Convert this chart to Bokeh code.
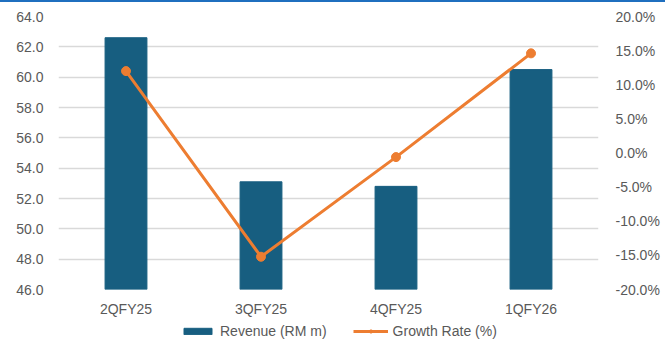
from bokeh.plotting import figure
from bokeh.models import (ColumnDataSource, Range1d, LinearAxis, FixedTicker,
                          NumeralTickFormatter, Legend, LegendItem, Div, FactorRange)
from bokeh.layouts import column
from bokeh.embed import file_html
from bokeh.resources import INLINE

# Quarterly revenue and quarter-on-quarter growth
quarters = ["2QFY25", "3QFY25", "4QFY25", "1QFY26"]
revenue = [62.6, 53.1, 52.8, 60.5]          # RM m
growth_pct = [12.0, -15.2, -0.6, 14.6]      # %
rev_ticks = [46, 48, 50, 52, 54, 56, 58, 60, 62, 64]
growth_ticks = [-0.20, -0.15, -0.10, -0.05, 0.0, 0.05, 0.10, 0.15, 0.20]

BAR = "#175e80"
LINE = "#ed7d31"
TEXT = "#595959"
GRID = "#d9d9d9"
FONT = "Liberation Sans"

src = ColumnDataSource(dict(q=quarters, rev=revenue,
                            g=[v / 100.0 for v in growth_pct]))

p = figure(width=665, height=317, x_range=FactorRange(*quarters),
           y_range=Range1d(46, 64), output_backend="svg", toolbar_location=None,
           min_border_left=58, min_border_right=67, min_border_top=14,
           min_border_bottom=28)
p.outline_line_color = None
p.background_fill_color = "white"
p.border_fill_color = "white"
p.x_range.range_padding = 0

p.extra_y_ranges = {"growth": Range1d(-0.20, 0.20)}


def style_axis(ax, standoff):
    ax.axis_line_color = None
    ax.major_tick_line_color = None
    ax.minor_tick_line_color = None
    ax.major_tick_out = 0
    ax.minor_tick_out = 0
    ax.major_label_text_color = TEXT
    ax.major_label_text_font = FONT
    ax.major_label_text_font_size = "14px"
    ax.major_label_standoff = standoff


# revenue axis (left)
ya = p.yaxis[0]
ya.ticker = FixedTicker(ticks=rev_ticks)
ya.formatter = NumeralTickFormatter(format="0.0")
style_axis(ya, 15)

# growth axis (right)
ra = LinearAxis(y_range_name="growth", ticker=FixedTicker(ticks=growth_ticks),
                formatter=NumeralTickFormatter(format="0.0%"))
style_axis(ra, 17)
p.add_layout(ra, "right")

style_axis(p.xaxis[0], 11)

p.xgrid.grid_line_color = None
p.ygrid.ticker = FixedTicker(ticks=rev_ticks)
p.ygrid.grid_line_color = GRID
p.ygrid.grid_line_width = 1.5

p.vbar(x="q", top="rev", bottom=46, width=0.31, source=src,
       fill_color=BAR, line_color=BAR)
p.line(x="q", y="g", source=src, y_range_name="growth",
       line_color=LINE, line_width=3)
p.scatter(x="q", y="g", source=src, y_range_name="growth",
          size=9, fill_color=LINE, line_color=LINE)

# legend strip under the chart; its key renderers hold a single blank (NaN) row
nan = float("nan")
lg = figure(width=665, height=38, x_range=Range1d(0, 1), y_range=Range1d(0, 1),
            x_axis_type=None, y_axis_type=None, output_backend="svg",
            toolbar_location=None, min_border=0)
lg.outline_line_color = None
lg.grid.visible = False
blank = ColumnDataSource(dict(x=[nan], y=[nan], top=[nan]))
k_bar = lg.vbar(x="x", top="top", width=0.1, source=blank,
                fill_color=BAR, line_color=BAR)
k_line = lg.line(x="x", y="y", source=blank, line_color=LINE, line_width=3)
k_pts = lg.scatter(x="x", y="y", source=blank, size=9,
                   fill_color=LINE, line_color=LINE)

legend = Legend(items=[LegendItem(label="Revenue (RM m)", renderers=[k_bar]),
                       LegendItem(label="Growth Rate (%)", renderers=[k_line, k_pts])],
                orientation="horizontal", location=(122, 18),
                padding=0, margin=0, spacing=26, label_standoff=5,
                glyph_width=35, glyph_height=8,
                label_text_font=FONT, label_text_font_size="14px",
                label_text_color=TEXT, border_line_color=None,
                background_fill_alpha=0)
lg.add_layout(legend, "center")

top_bar = Div(text="", width=665, height=2, margin=0,
              styles={"background-color": "#1f6fbf"})

layout = column(top_bar, p, lg, spacing=0)

open("out.html", "w").write(file_html(layout, INLINE))
